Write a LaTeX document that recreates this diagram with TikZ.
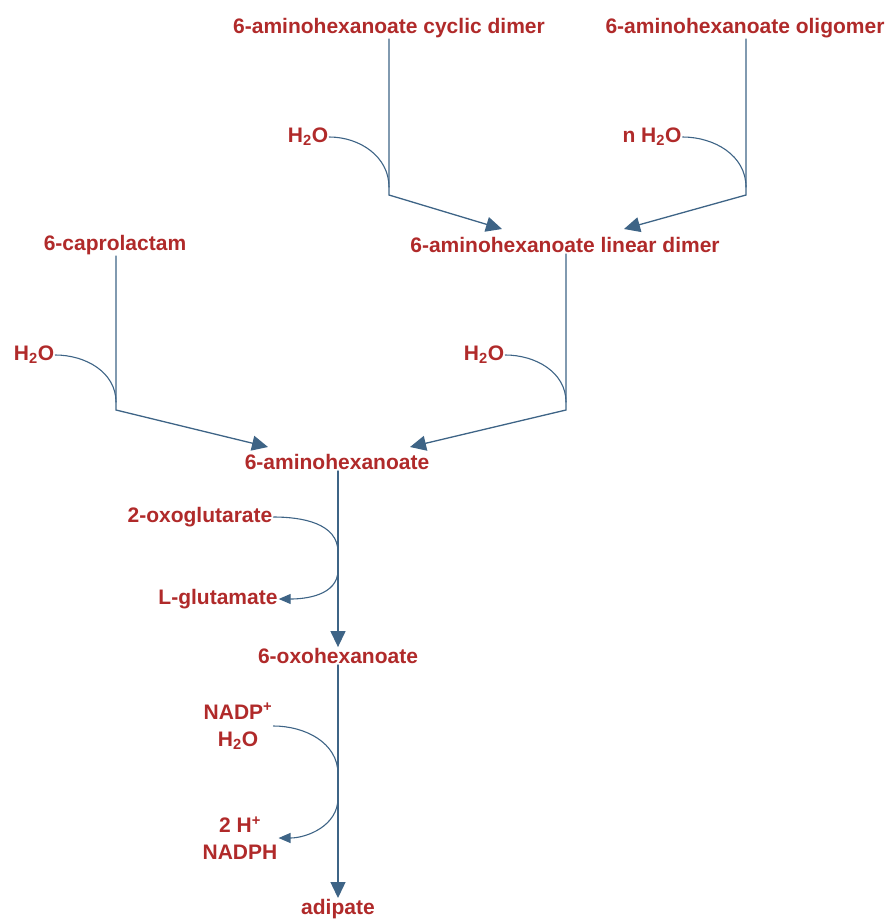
\documentclass[tikz,border=0pt]{standalone}
\usepackage{fontspec}
\setmainfont{Liberation Sans}
\usetikzlibrary{arrows.meta}
\definecolor{cpdred}{RGB}{176,42,42}
\definecolor{rxnblue}{RGB}{62,100,134}
\tikzset{
  cpd/.style={text=cpdred, font=\fontsize{21}{27}\selectfont\bfseries, inner sep=1pt},
  rxn/.style={draw=rxnblue, line width=1.3pt, -{Triangle[length=16pt,width=15pt]}},
  side/.style={draw=rxnblue, line width=1.1pt},
  sidearr/.style={side, -{Triangle[length=12pt,width=10pt]}},
}
\begin{document}
\begin{tikzpicture}[x=1pt, y=-1pt, line cap=round]
  \useasboundingbox (0,0) rectangle (887,919);

  % compounds
  \node[cpd] (cyc) at (389,28) {6-aminohexanoate cyclic dimer};
  \node[cpd] (olig) at (745,28) {6-aminohexanoate oligomer};
  \node[cpd] (lin) at (565,245) {6-aminohexanoate linear dimer};
  \node[cpd] (lac) at (115,245) {6-caprolactam};
  \node[cpd] (ahx) at (337,462) {6-aminohexanoate};
  \node[cpd] (oxo) at (338,656) {6-oxohexanoate};
  \node[cpd] (adi) at (338,909) {adipate};

  % cofactors
  \node[cpd] (w1) at (308,137) {H\textsubscript{2}O};
  \node[cpd] (w2) at (652,137) {n H\textsubscript{2}O};
  \node[cpd] (w3) at (34,355) {H\textsubscript{2}O};
  \node[cpd] (w4) at (484,355) {H\textsubscript{2}O};
  \node[cpd] (og) at (200,517) {2-oxoglutarate};
  \node[cpd] (glu) at (218,599) {L-glutamate};
  \node[cpd, align=center] (nadp) at (238,726) {NADP\textsuperscript{+}\\H\textsubscript{2}O};
  \node[cpd, align=center] (nadph) at (240,838) {2 H\textsuperscript{+}\\NADPH};

  % corners and arrow ends
  \coordinate (k1) at (389,195);
  \coordinate (k2) at (746,195);
  \coordinate (k3) at (116,410);
  \coordinate (k4) at (566,410);
  \coordinate (t1) at (502,229);
  \coordinate (t2) at (624,229);
  \coordinate (t3) at (268,447);
  \coordinate (t4) at (410,447);

  % joins of the side curves
  \coordinate (j1) at (389,187);
  \coordinate (j2) at (746,187);
  \coordinate (j3) at (116,402);
  \coordinate (j4) at (566,402);
  \coordinate (m1) at (338,552);
  \coordinate (m2) at (338,570);
  \coordinate (m3) at (338,774);
  \coordinate (m4) at (338,798);

  % reactions
  \draw[rxn] (cyc.south -| k1) -- (k1) -- (t1);
  \draw[rxn] (olig.south -| k2) -- (k2) -- (t2);
  \draw[rxn] (lac.south -| k3) -- (k3) -- (t3);
  \draw[rxn] (lin.south -| k4) -- (k4) -- (t4);
  \draw[rxn] (ahx.south -| oxo) -- (oxo.north);
  \draw[rxn] (oxo) -- (adi);

  % side reactants
  \draw[side] (w1.east) to[out=0, in=90] (j1);
  \draw[side] (w2.east) to[out=0, in=90] (j2);
  \draw[side] (w3.east) to[out=0, in=90] (j3);
  \draw[side] (w4.east) to[out=0, in=90] (j4);
  \draw[sidearr] (og.east) to[out=0, in=90] (m1) -- (m2) to[out=-90, in=0] (glu.east);
  \draw[sidearr] (nadp.east) to[out=0, in=90] (m3) -- (m4) to[out=-90, in=0] (nadph.east);
\end{tikzpicture}
\end{document}
